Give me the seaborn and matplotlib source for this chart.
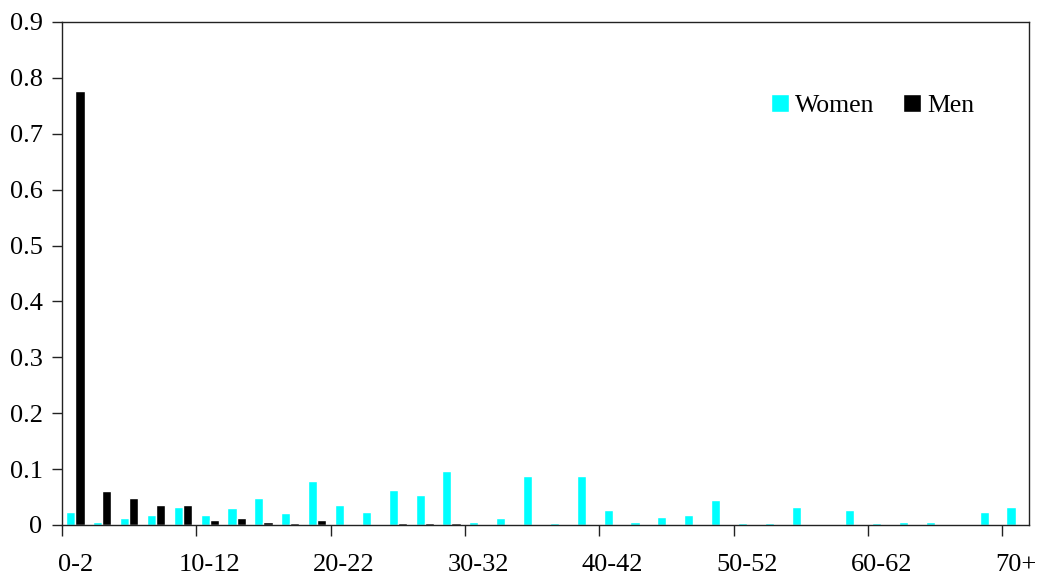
import matplotlib
matplotlib.use("Agg")
import matplotlib.pyplot as plt
import seaborn as sns
import numpy as np
import pandas as pd

# age groups: 0-2, 2-4, ..., 68-70, 70+
ages = [f"{a}-{a + 2}" for a in range(0, 70, 2)] + ["70+"]

women = [0.024, 0.006, 0.0125, 0.018, 0.033, 0.018, 0.030, 0.048, 0.021, 0.078,
         0.036, 0.024, 0.063, 0.054, 0.096, 0.006, 0.0125, 0.087, 0.003, 0.087,
         0.027, 0.006, 0.015, 0.018, 0.045, 0.003, 0.003, 0.033, 0.0, 0.027,
         0.003, 0.006, 0.006, 0.0, 0.024, 0.033]
men = [0.776, 0.060, 0.048, 0.036, 0.036, 0.0095, 0.0125, 0.006, 0.0035, 0.0095,
       0.0, 0.0, 0.003, 0.003, 0.003, 0.0, 0.0, 0.0, 0.0, 0.0,
       0.0, 0.0, 0.0, 0.0, 0.0, 0.0, 0.0, 0.0, 0.0, 0.0,
       0.0, 0.0, 0.0, 0.0, 0.0, 0.0]

yticks = [0, 0.1, 0.2, 0.3, 0.4, 0.5, 0.6, 0.7, 0.8, 0.9]
ytick_labels = ["0", "0.1", "0.2", "0.3", "0.4", "0.5", "0.6", "0.7", "0.8", "0.9"]

df = pd.DataFrame({
    "age": ages * 2,
    "share": women + men,
    "sex": ["Women"] * len(ages) + ["Men"] * len(ages),
})

sns.set_style("ticks")
plt.rcParams["font.family"] = ["Liberation Serif", "DejaVu Serif"]
plt.rcParams["text.color"] = "black"
plt.rcParams["xtick.labelcolor"] = "black"
plt.rcParams["ytick.labelcolor"] = "black"

fig = plt.figure(figsize=(10.37, 5.78), dpi=100)
ax = fig.add_axes([0.0598, 0.0917, 0.9325, 0.8703])

sns.barplot(data=df, x="age", y="share", hue="sex", order=ages,
            hue_order=["Women", "Men"],
            palette={"Women": "#00FFFF", "Men": "#000000"},
            width=0.68, saturation=1, ax=ax, legend=True)

ax.set_xlim(-0.5, len(ages) - 0.5)
ax.set_ylim(0, 0.9)
ax.set_yticks(yticks)
ax.set_yticklabels(ytick_labels, fontsize=19, color="black")
ax.tick_params(axis="y", length=7, width=1, direction="out", pad=7, color="#222222")

# labels on every 5th category, tick marks on category boundaries
ax.set_xticks(range(len(ages)))
ax.set_xticklabels([a if i % 5 == 0 else "" for i, a in enumerate(ages)],
                   fontsize=19, color="black")
ax.tick_params(axis="x", which="major", length=0, pad=21)
ax.set_xticks(np.arange(-0.5, len(ages) - 0.5, 5), minor=True)
ax.tick_params(axis="x", which="minor", length=8, width=1, direction="out", color="#222222")

ax.set_xlabel("")
ax.set_ylabel("")
for s in ax.spines.values():
    s.set_visible(True)
    s.set_color("#222222")
    s.set_linewidth(1.0)

ax.legend(ncol=2, frameon=False, fontsize=18.5, loc="center left",
          bbox_to_anchor=(0.709, 0.834), handlelength=0.7, handleheight=0.7,
          handletextpad=0.25, columnspacing=1.1)

fig.savefig("out.png", dpi=100)
